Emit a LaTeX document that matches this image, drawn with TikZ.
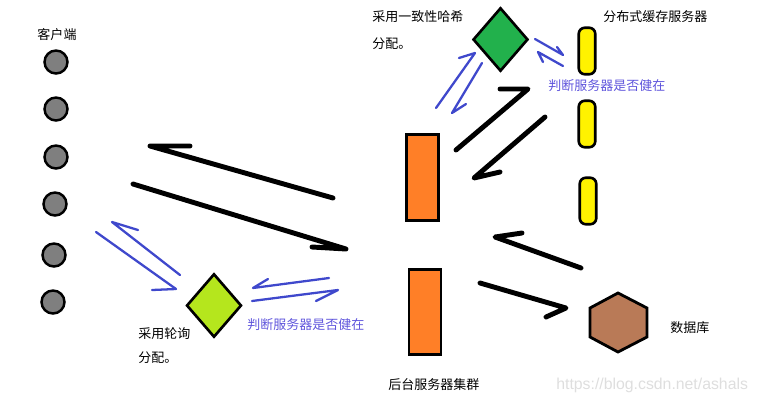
\documentclass[tikz,border=0pt]{standalone}
\usepackage{fontspec}
\setmainfont{Noto Sans CJK SC}
\newfontfamily\urlfont{Liberation Sans}
\usetikzlibrary{shapes.geometric}

\definecolor{clientgray}{RGB}{127,127,127}
\definecolor{hashgreen}{RGB}{34,177,76}
\definecolor{rrlime}{RGB}{181,230,29}
\definecolor{serverorange}{RGB}{255,127,39}
\definecolor{cacheyellow}{RGB}{255,242,0}
\definecolor{dbbrown}{RGB}{185,122,87}
\definecolor{arrowblue}{RGB}{63,72,204}
\definecolor{checkviolet}{RGB}{95,85,220}
\definecolor{markgray}{RGB}{222,222,222}

\tikzset{
  client/.style={circle, draw, line width=1.4pt, fill=clientgray, minimum size=0.46cm, inner sep=0pt},
  balancer/.style={diamond, draw, line width=1.5pt, inner sep=0pt, minimum width=1.1cm, minimum height=1.27cm},
  server/.style={rectangle, draw, line width=1.6pt, fill=serverorange, minimum width=0.64cm, inner sep=0pt},
  cache/.style={rectangle, draw, line width=1.5pt, fill=cacheyellow, rounded corners=0.12cm, minimum width=0.33cm, minimum height=0.93cm, inner sep=0pt},
  label/.style={anchor=west, inner sep=0pt},
  bigarrow/.style={line width=2.8pt, line cap=round, line join=round},
  bluearrow/.style={arrowblue, line width=1.3pt, line cap=round, line join=round}
}

\begin{document}
\begin{tikzpicture}[x=0.02cm, y=-0.02cm, font=\fontsize{7.4}{9}\selectfont]
        \useasboundingbox (0, 0) rectangle (757, 403);

        % clients
        \node (clients) at (57, 35) {客户端};
        \node[client] (c1) at (56, 62) {};
        \node[client] (c2) at (56, 109) {};
        \node[client] (c3) at (56, 157) {};
        \node[client] (c4) at (55, 204) {};
        \node[client] (c5) at (54, 255) {};
        \node[client] (c6) at (53, 302) {};

        % load balancers
        \node[balancer, fill=rrlime] (rr) at (214, 305.5) {};
        \node[balancer, fill=hashgreen] (hash) at (500.5, 39.5) {};
        \node[label] (rrtext) at (138, 334) {采用轮询};
        \node[label] (rrtext2) at (138, 358) {分配。};
        \node[label] (hashtext) at (372, 17) {采用一致性哈希};
        \node[label] (hashtext2) at (372, 44) {分配。};

        % backend servers
        \node[server, minimum height=1.72cm] (s1) at (422.5, 177.5) {};
        \node[server, minimum height=1.7cm] (s2) at (425, 312) {};
        \node[label] (servers) at (388, 385) {后台服务器集群};

        % cache servers
        \node[cache] (k1) at (587, 51) {};
        \node[cache] (k2) at (587, 124) {};
        \node[cache] (k3) at (588, 201) {};
        \node[label] (caches) at (603, 17) {分布式缓存服务器};

        % database
        \draw[line width=1.6pt, fill=dbbrown] (618, 293) -- (647, 308) -- (647, 337)
            -- (618, 352) -- (590, 337) -- (590, 308) -- cycle;
        \coordinate (db) at (618, 322);
        \node[label] (dbtext) at (670, 328) {数据库};

        % health checks
        \node[label, text=checkviolet] (check1) at (548, 86) {判断服务器是否健在};
        \node[label, text=checkviolet] (check2) at (247, 325) {判断服务器是否健在};

        \node[label, text=markgray, font=\urlfont\fontsize{9}{11}\selectfont] (mark) at (556, 385) {https://blog.csdn.net/ashals};

        % black arrows: start, tip, barb
        \coordinate (A1s) at (333, 198); \coordinate (A1e) at (150, 146); \coordinate (A1b) at (190, 146);
        \coordinate (A2s) at (133, 184); \coordinate (A2e) at (346, 249); \coordinate (A2b) at (312, 247);
        \coordinate (A3s) at (456, 150); \coordinate (A3e) at (528, 89); \coordinate (A3b) at (500, 89);
        \coordinate (A4s) at (545, 117); \coordinate (A4e) at (474, 178); \coordinate (A4b) at (500, 172);
        \coordinate (A5s) at (581, 268); \coordinate (A5e) at (495, 237); \coordinate (A5b) at (522, 233);
        \coordinate (A6s) at (480, 283); \coordinate (A6e) at (566, 308); \coordinate (A6b) at (546, 317);

        \begin{scope}[bigarrow]
            \draw (A1s) -- (A1e) -- (A1b);
            \draw (A2s) -- (A2e) -- (A2b);
            \draw (A3s) -- (A3e) -- (A3b);
            \draw (A4s) -- (A4e) -- (A4b);
            \draw (A5s) -- (A5e) -- (A5b);
            \draw (A6s) -- (A6e) -- (A6b);
        \end{scope}

        % blue arrows
        \coordinate (B1s) at (436, 108); \coordinate (B1e) at (475, 53); \coordinate (B1b) at (459, 58);
        \coordinate (B2s) at (482, 63); \coordinate (B2e) at (452, 113); \coordinate (B2b) at (466, 104);
        \coordinate (B3s) at (535, 39); \coordinate (B3e) at (563, 55); \coordinate (B3b) at (557, 47);
        \coordinate (B4s) at (563, 66); \coordinate (B4e) at (538, 52); \coordinate (B4b) at (543, 62);
        \coordinate (B5s) at (96, 232); \coordinate (B5e) at (176, 289); \coordinate (B5b) at (152, 290);
        \coordinate (B6s) at (180, 275); \coordinate (B6e) at (112, 222); \coordinate (B6b) at (138, 230);
        \coordinate (B7s) at (329, 278); \coordinate (B7e) at (253, 288); \coordinate (B7b) at (268, 279);
        \coordinate (B8s) at (252, 301); \coordinate (B8e) at (338, 290); \coordinate (B8b) at (316, 301);

        \begin{scope}[bluearrow]
            \draw (B1s) -- (B1e) -- (B1b);
            \draw (B2s) -- (B2e) -- (B2b);
            \draw (B3s) -- (B3e) -- (B3b);
            \draw (B4s) -- (B4e) -- (B4b);
            \draw (B5s) -- (B5e) -- (B5b);
            \draw (B6s) -- (B6e) -- (B6b);
            \draw (B7s) -- (B7e) -- (B7b);
            \draw (B8s) -- (B8e) -- (B8b);
        \end{scope}

    \end{tikzpicture}
\end{document}
